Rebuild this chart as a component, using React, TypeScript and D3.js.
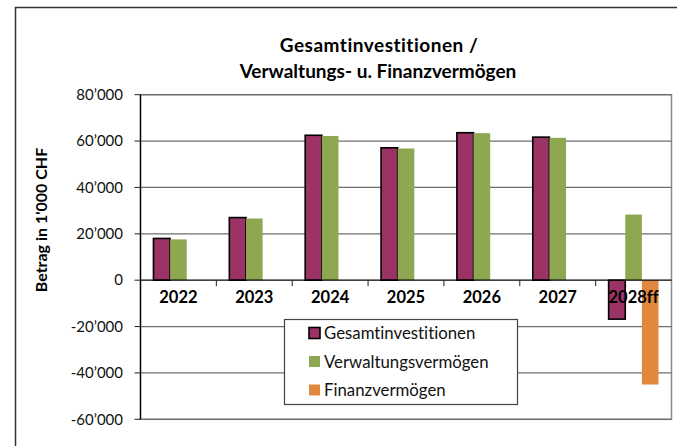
import React from "react";
import * as d3 from "d3";

const categories = ["2022", "2023", "2024", "2025", "2026", "2027", "2028ff"];
const seriesNames = ["Gesamtinvestitionen", "Verwaltungsvermögen", "Finanzvermögen"];
const gesamt = [18000, 27000, 62500, 57100, 63600, 61700, -16800];
const verwaltung = [17600, 26600, 62200, 56800, 63400, 61400, 28300];
const finanz = [0, 0, 0, 0, 0, 0, -45000];
const yTicks = [-60000, -40000, -20000, 0, 20000, 40000, 60000, 80000];
const colors = ["#9B3366", "#8EA851", "#E0883D"];

const W = 677, H = 446;
const plotL = 140.5, plotR = 671.5, plotT = 94.7, plotB = 419.3;

const fmt = (v: number) => {
  const a = Math.abs(v);
  const s = a >= 1000 ? d3.format(",")(a).replace(/,/g, "\u2019") : String(a);
  return (v < 0 ? "-" : "") + s;
};

export default function App() {
  const x = d3.scaleBand<string>().domain(categories).range([plotL, plotR]).padding(0);
  const inner = d3.scaleBand<string>().domain(seriesNames).range([0, x.bandwidth()]).paddingInner(0).paddingOuter(0.78);
  const y = d3.scaleLinear().domain([-60000, 80000]).range([plotB, plotT]);
  const data = [gesamt, verwaltung, finanz];
  const font = "Lato, 'Open Sans', sans-serif";

  return (
    <svg width={W} height={H} style={{ position: "absolute", left: 0, top: 0, background: "#fff", fontVariantLigatures: "none" }} fontFamily={font}>
      {/* outer chart border */}
      <rect x={15.5} y={7.5} width={W + 20} height={H + 20} fill="none" stroke="#333" strokeWidth={1.5} />
      {/* title */}
      <text x={379} y={52} textAnchor="middle" fontSize={19} fontWeight="bold" letterSpacing={0.5} fill="#000">Gesamtinvestitionen /</text>
      <text x={378} y={78} textAnchor="middle" fontSize={19} fontWeight="bold" fill="#000">Verwaltungs- u. Finanzvermögen</text>
      {/* plot border */}
      <rect x={plotL} y={plotT} width={plotR - plotL} height={plotB - plotT} fill="none" stroke="#8a8a8a" strokeWidth={1.5} />
      {/* gridlines */}
      {yTicks.filter(t => t !== 0).map(t => (
        <line key={t} x1={plotL} x2={plotR} y1={y(t)} y2={y(t)} stroke="#6e6e6e" strokeWidth={1.2} />
      ))}
      {/* y ticks and labels */}
      {yTicks.map(t => (
        <g key={"t" + t}>
          <line x1={plotL - 6} x2={plotL} y1={y(t)} y2={y(t)} stroke="#222" strokeWidth={1} />
          <text x={123} y={y(t)} dy="0.35em" textAnchor="end" fontSize={15} fill="#111">{fmt(t)}</text>
        </g>
      ))}
      {/* bars */}
      {data.map((vals, si) =>
        vals.map((v, ci) => {
          const bx = (x(categories[ci]) as number) + (inner(seriesNames[si]) as number);
          const y0 = y(0), y1 = y(v);
          const top = Math.min(y0, y1), h = Math.abs(y1 - y0);
          if (h < 0.5) return null;
          return (
            <rect key={si + "-" + ci} x={bx} y={top} width={inner.bandwidth()} height={h}
              fill={colors[si]} stroke={si === 0 ? "#000" : "none"} strokeWidth={si === 0 ? 1.6 : 0} />
          );
        })
      )}
      {/* zero axis */}
      <line x1={plotL} x2={plotR} y1={y(0)} y2={y(0)} stroke="#000" strokeWidth={1.3} />
      {categories.slice(1).map(c => (
        <line key={"xt" + c} x1={x(c) as number} x2={x(c) as number} y1={y(0)} y2={y(0) + 6} stroke="#222" strokeWidth={1} />
      ))}
      {/* y axis line */}
      <line x1={plotL} x2={plotL} y1={plotT} y2={plotB} stroke="#000" strokeWidth={1.3} />
      {/* category labels */}
      {categories.map(c => (
        <text key={"l" + c} x={(x(c) as number) + x.bandwidth() / 2} y={303} textAnchor="middle" fontSize={16.5} fontWeight="bold" fill="#000">{c}</text>
      ))}
      {/* y axis title */}
      <text transform={`translate(47, 220) rotate(-90)`} textAnchor="middle" fontSize={16} fontWeight="bold" fill="#000">Betrag in 1'000 CHF</text>
      {/* legend */}
      <rect x={284.5} y={319.5} width={233} height={85} fill="#fff" stroke="#444" strokeWidth={1.2} />
      {seriesNames.map((n, i) => {
        const cy = 333 + i * 28.5;
        return (
          <g key={"lg" + n}>
            <rect x={309} y={cy - 5.5} width={11} height={11} fill={colors[i]} stroke={i === 0 ? "#000" : "none"} strokeWidth={i === 0 ? 1.6 : 0} />
            <text x={324} y={cy} dy="0.36em" fontSize={16.8} fill="#111">{n}</text>
          </g>
        );
      })}
    </svg>
  );
}
